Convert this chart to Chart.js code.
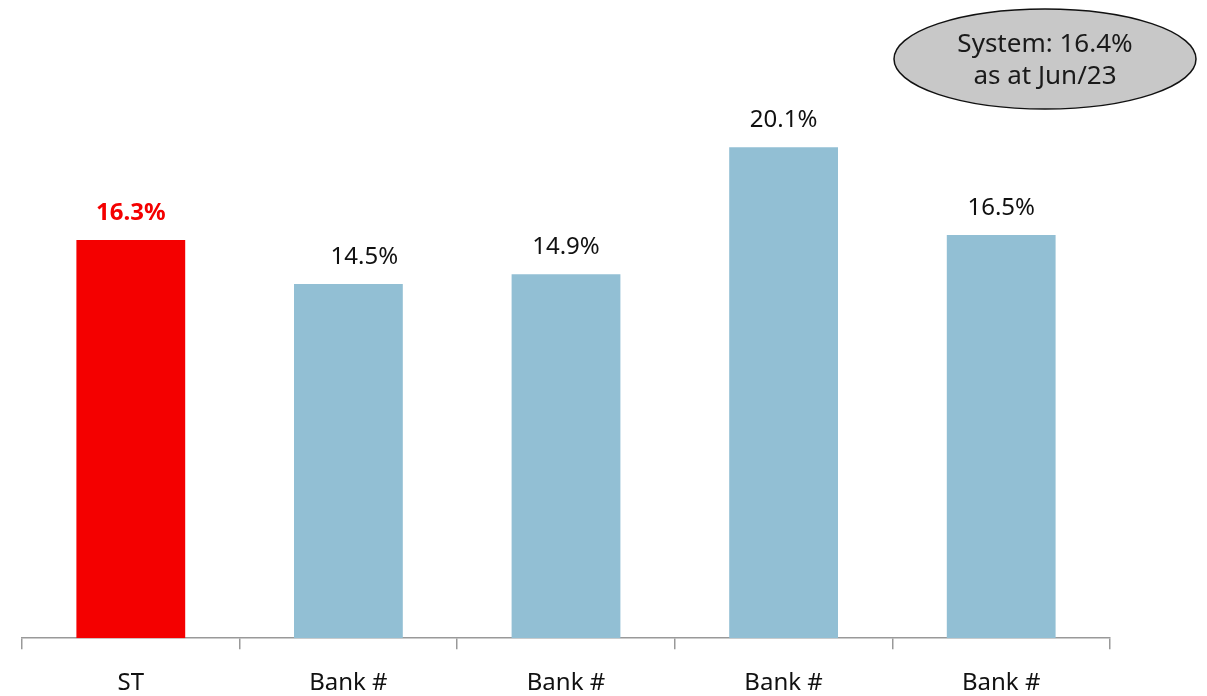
<!DOCTYPE html>
<html>
<head>
<meta charset="utf-8">
<script src="https://cdn.jsdelivr.net/npm/chart.js@4"></script>
<style>
  html, body { margin: 0; padding: 0; background: #fff; overflow: hidden; }
  #wrap { width: 1207px; height: 696px; position: relative; }
</style>
</head>
<body>
<div id="wrap"><canvas id="bankChart" width="1207" height="696"></canvas></div>
<script>
const categories = ['ST', 'Bank #', 'Bank #', 'Bank #', 'Bank #'];
const ratios = [16.3, 14.5, 14.9, 20.1, 16.5];
const barColors = ['#f40000', '#92bfd4', '#92bfd4', '#92bfd4', '#92bfd4'];
const systemNote = ['System: 16.4%', 'as at Jun/23'];

const fontFamily = '"Noto Sans", "Open Sans", sans-serif';

// labels above each bar
const valueLabels = {
    id: 'valueLabels',
    afterDatasetsDraw(chart) {
        const ctx = chart.ctx;
        const meta = chart.getDatasetMeta(0);
        const shift = [0, 16, 0, 0, 0];
        ctx.save();
        ctx.textAlign = 'center';
        ctx.textBaseline = 'middle';
        meta.data.forEach((bar, i) => {
            const y = chart.scales.y.getPixelForValue(ratios[i]);
            if (i === 0) {
                ctx.fillStyle = '#f40000';
                ctx.font = 'bold 24px ' + fontFamily;
            } else {
                ctx.fillStyle = '#111';
                ctx.font = '24px ' + fontFamily;
            }
            ctx.fillText(ratios[i].toFixed(1) + '%', bar.x + shift[i], y - 27);
        });
        ctx.restore();
    }
};

// grey ellipse in the top right corner
const systemBubble = {
    id: 'systemBubble',
    afterDraw(chart) {
        const ctx = chart.ctx;
        ctx.save();
        ctx.beginPath();
        ctx.ellipse(1045, 59, 151, 50, 0, 0, Math.PI * 2);
        ctx.fillStyle = '#c8c8c8';
        ctx.fill();
        ctx.lineWidth = 1.5;
        ctx.strokeStyle = '#111';
        ctx.stroke();
        ctx.fillStyle = '#1a1a1a';
        ctx.font = '26px ' + fontFamily;
        ctx.textAlign = 'center';
        ctx.textBaseline = 'middle';
        ctx.fillText(systemNote[0], 1045, 45);
        ctx.fillText(systemNote[1], 1045, 77);
        ctx.restore();
    }
};

document.addEventListener('DOMContentLoaded', function() {
    const ctx = document.getElementById('bankChart').getContext('2d');
    new Chart(ctx, {
        type: 'bar',
        data: {
            labels: categories,
            datasets: [{
                data: ratios,
                backgroundColor: barColors,
                borderWidth: 0,
                barPercentage: 0.5,
                categoryPercentage: 1.0
            }]
        },
        options: {
            responsive: false,
            animation: false,
            layout: { padding: { top: 3, left: 22, right: 97, bottom: -22 } },
            plugins: {
                legend: { display: false },
                tooltip: { enabled: false }
            },
            scales: {
                x: {
                    grid: {
                        offset: true,
                        drawOnChartArea: false,
                        drawTicks: true,
                        tickLength: 11,
                        color: '#999',
                        lineWidth: 1.5
                    },
                    border: { display: true, color: '#999', width: 1.5 },
                    ticks: {
                        color: '#111',
                        padding: 20,
                        font: { family: fontFamily, size: 24 }
                    }
                },
                y: {
                    display: false,
                    min: 0,
                    max: 26
                }
            }
        },
        plugins: [valueLabels, systemBubble]
    });
});
</script>
</body>
</html>
